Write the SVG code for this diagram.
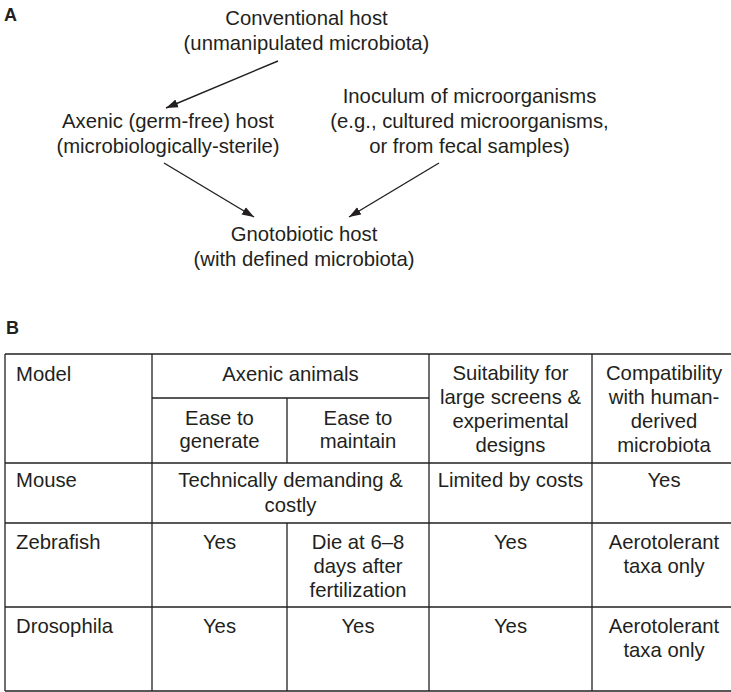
<svg xmlns="http://www.w3.org/2000/svg" width="731" height="692" viewBox="0 0 731 692">
<style>
  text { font-family: "Liberation Sans", Arial, sans-serif; font-size: 20.3px; fill: #231f20; }
  .c { text-anchor: middle; }
  .lbl { font-weight: bold; font-size: 18px; }
  .arrow { stroke: #231f20; stroke-width: 1.4; fill: none; marker-end: url(#ah); }
  .grid { stroke: #231f20; stroke-width: 1.3; fill: none; }
</style>
<defs>
  <marker id="ah" markerUnits="userSpaceOnUse" markerWidth="14" markerHeight="10" refX="12" refY="5" orient="auto">
    <path d="M0,0.8 L12,5 L0,9.2 Z" fill="#231f20"/>
  </marker>
</defs>
<rect width="731" height="692" fill="#ffffff"/>
<text class="lbl" x="4" y="21">A</text>
<g id="conventional">
  <text class="c" x="306.5" y="24.5">Conventional host</text>
  <text class="c" x="306.5" y="49.5">(unmanipulated microbiota)</text>
</g>
<g id="axenic">
  <text class="c" x="168" y="127.7">Axenic (germ-free) host</text>
  <text class="c" x="168" y="152.7">(microbiologically-sterile)</text>
</g>
<g id="inoculum">
  <text class="c" x="469.5" y="103">Inoculum of microorganisms</text>
  <text class="c" x="469.5" y="128">(e.g., cultured microorganisms,</text>
  <text class="c" x="469.5" y="153">or from fecal samples)</text>
</g>
<g id="gnotobiotic">
  <text class="c" x="304" y="240.7">Gnotobiotic host</text>
  <text class="c" x="304" y="265.7">(with defined microbiota)</text>
</g>
<g id="connectors">
  <line class="arrow" x1="278" y1="61" x2="166" y2="108"/>
  <line class="arrow" x1="164" y1="163" x2="254" y2="217"/>
  <line class="arrow" x1="439" y1="163" x2="349" y2="217"/>
</g>
<text class="lbl" x="6" y="334">B</text>
<g id="table">
  <g id="table-lines">
    <line class="grid" x1="5" y1="354" x2="731" y2="354"/>
    <line class="grid" x1="152" y1="398" x2="429" y2="398"/>
    <line class="grid" x1="5" y1="463" x2="731" y2="463" stroke-width="1.6"/>
    <line class="grid" x1="5" y1="523" x2="731" y2="523"/>
    <line class="grid" x1="5" y1="607" x2="731" y2="607"/>
    <line class="grid" x1="5" y1="691" x2="731" y2="691"/>
    <line class="grid" x1="5" y1="354" x2="5" y2="691"/>
    <line class="grid" x1="152" y1="354" x2="152" y2="691"/>
    <line class="grid" x1="287" y1="398" x2="287" y2="463"/>
    <line class="grid" x1="287" y1="523" x2="287" y2="691"/>
    <line class="grid" x1="429" y1="354" x2="429" y2="691"/>
    <line class="grid" x1="592" y1="354" x2="592" y2="691"/>
  </g>
  <g id="header">
    <text x="16" y="381">Model</text>
    <text class="c" x="290.5" y="381">Axenic animals</text>
    <text class="c" x="219.5" y="425">Ease to</text>
    <text class="c" x="219.5" y="448">generate</text>
    <text class="c" x="358" y="425">Ease to</text>
    <text class="c" x="358" y="448">maintain</text>
    <text class="c" x="510.5" y="380">Suitability for</text>
    <text class="c" x="510.5" y="404">large screens &amp;</text>
    <text class="c" x="510.5" y="428">experimental</text>
    <text class="c" x="510.5" y="452">designs</text>
    <text class="c" x="664" y="380">Compatibility</text>
    <text class="c" x="664" y="404">with human-</text>
    <text class="c" x="664" y="428">derived</text>
    <text class="c" x="664" y="452">microbiota</text>
  </g>
  <g id="row-mouse">
    <text x="16" y="487">Mouse</text>
    <text class="c" x="290.5" y="487">Technically demanding &amp;</text>
    <text class="c" x="290.5" y="512">costly</text>
    <text class="c" x="510.5" y="487">Limited by costs</text>
    <text class="c" x="664" y="487">Yes</text>
  </g>
  <g id="row-zebrafish">
    <text x="16" y="549">Zebrafish</text>
    <text class="c" x="219.5" y="549">Yes</text>
    <text class="c" x="358" y="549">Die at 6–8</text>
    <text class="c" x="358" y="573">days after</text>
    <text class="c" x="358" y="597">fertilization</text>
    <text class="c" x="510.5" y="549">Yes</text>
    <text class="c" x="664" y="549">Aerotolerant</text>
    <text class="c" x="664" y="573">taxa only</text>
  </g>
  <g id="row-drosophila">
    <text x="16" y="633">Drosophila</text>
    <text class="c" x="219.5" y="633">Yes</text>
    <text class="c" x="358" y="633">Yes</text>
    <text class="c" x="510.5" y="633">Yes</text>
    <text class="c" x="664" y="633">Aerotolerant</text>
    <text class="c" x="664" y="657">taxa only</text>
  </g>
</g>
</svg>
